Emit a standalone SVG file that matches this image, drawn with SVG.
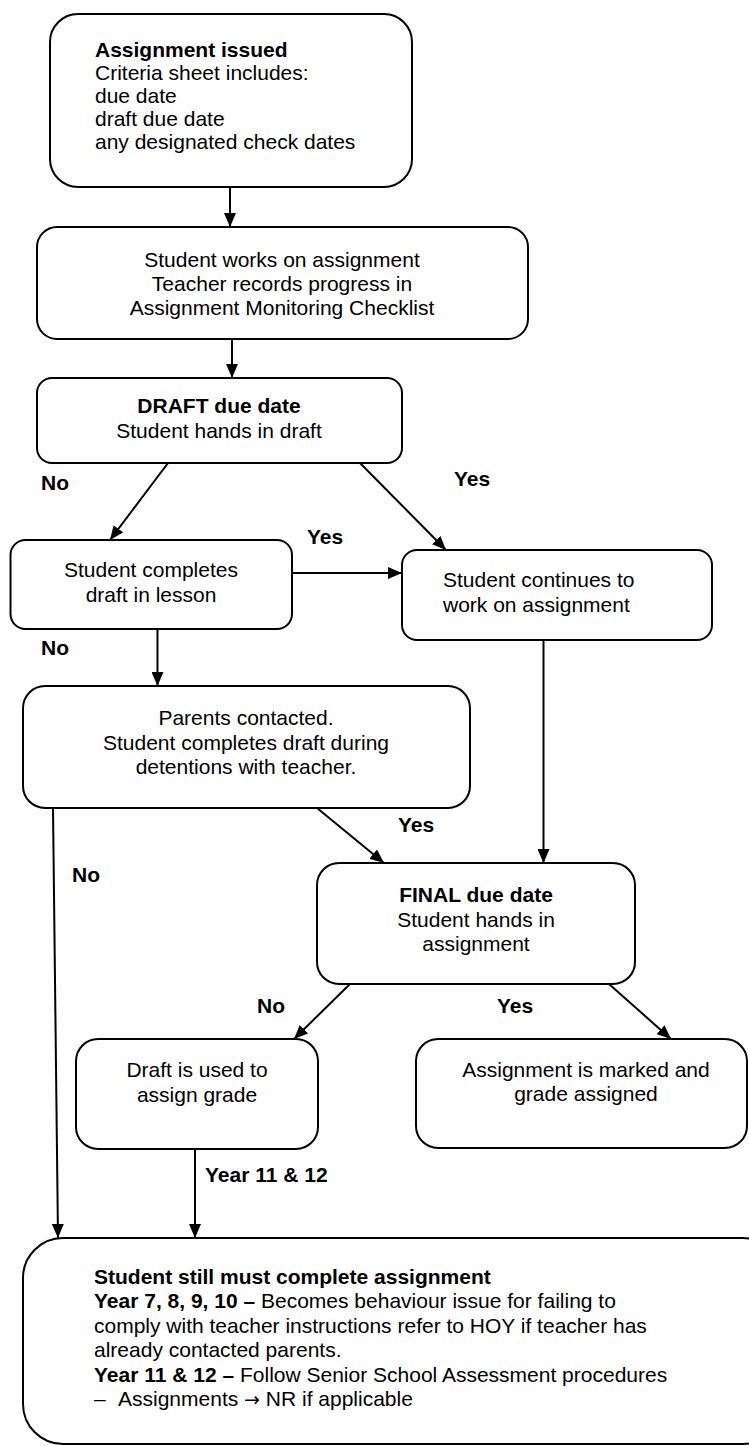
<svg xmlns="http://www.w3.org/2000/svg" width="749" height="1446" viewBox="0 0 749 1446">
<style>
.box{fill:#fff;stroke:#000;stroke-width:2}
.t{font-family:"Liberation Sans",Arial,sans-serif;font-size:21px;fill:#000}
.c{text-anchor:middle}
.b{font-weight:bold}
.arr{font-family:"DejaVu Sans",sans-serif;font-size:19px}
.con line{stroke:#000;stroke-width:2}
</style>
<defs>
<marker id="ah" viewBox="0 0 14 12" refX="14" refY="6" markerWidth="14" markerHeight="12" markerUnits="userSpaceOnUse" orient="auto">
<path d="M0,0 L14,6 L0,12 z" fill="#000"/>
</marker>
</defs>
<rect width="749" height="1446" fill="#fff"/>

<g id="n1">
<rect class="box" x="50" y="14" width="362" height="173" rx="28"/>
<text class="t b" x="95" y="57">Assignment issued</text>
<text class="t" x="95" y="80">Criteria sheet includes:</text>
<text class="t" x="95" y="103">due date</text>
<text class="t" x="95" y="126">draft due date</text>
<text class="t" x="95" y="149">any designated check dates</text>
</g>

<g id="n2">
<rect class="box" x="37" y="227" width="491" height="112" rx="20"/>
<text class="t c" x="282" y="267">Student works on assignment</text>
<text class="t c" x="282" y="291">Teacher records progress in</text>
<text class="t c" x="282" y="315">Assignment Monitoring Checklist</text>
</g>

<g id="n3">
<rect class="box" x="37" y="378" width="365" height="85" rx="15"/>
<text class="t c b" x="219" y="413">DRAFT due date</text>
<text class="t c" x="219" y="438">Student hands in draft</text>
</g>

<g id="n4">
<rect class="box" x="10.5" y="540" width="281.5" height="89" rx="15"/>
<text class="t c" x="151" y="577">Student completes</text>
<text class="t c" x="151" y="602">draft in lesson</text>
</g>

<g id="n5">
<rect class="box" x="402" y="550" width="310" height="90" rx="15"/>
<text class="t" x="443" y="587">Student continues to</text>
<text class="t" x="443" y="612">work on assignment</text>
</g>

<g id="n6">
<rect class="box" x="23" y="686" width="447" height="122" rx="22"/>
<text class="t c" x="246" y="725">Parents contacted.</text>
<text class="t c" x="246" y="750">Student completes draft during</text>
<text class="t c" x="246" y="774">detentions with teacher.</text>
</g>

<g id="n7">
<rect class="box" x="317" y="863" width="318" height="121" rx="22"/>
<text class="t c b" x="476" y="902">FINAL due date</text>
<text class="t c" x="476" y="927">Student hands in</text>
<text class="t c" x="476" y="951">assignment</text>
</g>

<g id="n8">
<rect class="box" x="76" y="1039" width="242" height="110" rx="22"/>
<text class="t c" x="197" y="1077">Draft is used to</text>
<text class="t c" x="197" y="1102">assign grade</text>
</g>

<g id="n9">
<rect class="box" x="416" y="1039" width="331" height="109" rx="22"/>
<text class="t c" x="586" y="1077">Assignment is marked and</text>
<text class="t c" x="586" y="1101">grade assigned</text>
</g>

<g id="n10">
<rect class="box" x="23" y="1238" width="760" height="206" rx="40"/>
<text class="t b" x="94" y="1284">Student still must complete assignment</text>
<text class="t" x="94" y="1308"><tspan class="b">Year 7, 8, 9, 10 –</tspan> Becomes behaviour issue for failing to</text>
<text class="t" x="94" y="1333">comply with teacher instructions refer to HOY if teacher has</text>
<text class="t" x="94" y="1357">already contacted parents.</text>
<text class="t" x="94" y="1382"><tspan class="b">Year 11 &amp; 12 –</tspan> Follow Senior School Assessment procedures</text>
<text class="t" x="94" y="1406">–<tspan x="118">Assignments </tspan><tspan class="arr">→</tspan> NR if applicable</text>
</g>

<g id="connectors" class="con">
<line x1="230" y1="187" x2="230" y2="227" marker-end="url(#ah)"/>
<line x1="232" y1="339" x2="232" y2="378" marker-end="url(#ah)"/>
<line x1="168" y1="463" x2="110" y2="540" marker-end="url(#ah)"/>
<line x1="360" y1="463" x2="446" y2="550" marker-end="url(#ah)"/>
<line x1="292" y1="573" x2="402" y2="573" marker-end="url(#ah)"/>
<line x1="157.5" y1="629" x2="157.5" y2="686" marker-end="url(#ah)"/>
<line x1="543.5" y1="640" x2="543.5" y2="863" marker-end="url(#ah)"/>
<line x1="317" y1="808" x2="384" y2="863" marker-end="url(#ah)"/>
<line x1="53" y1="808" x2="58" y2="1238" marker-end="url(#ah)"/>
<line x1="350" y1="984" x2="294" y2="1039" marker-end="url(#ah)"/>
<line x1="609" y1="984" x2="671" y2="1039" marker-end="url(#ah)"/>
<line x1="195" y1="1149" x2="195" y2="1238" marker-end="url(#ah)"/>
</g>

<g id="labels">
<text class="t b" x="41" y="490">No</text>
<text class="t b" x="454" y="486">Yes</text>
<text class="t b" x="307" y="544">Yes</text>
<text class="t b" x="41" y="655">No</text>
<text class="t b" x="398" y="832">Yes</text>
<text class="t b" x="72" y="882">No</text>
<text class="t b" x="257" y="1013">No</text>
<text class="t b" x="497" y="1013">Yes</text>
<text class="t b" x="205" y="1182">Year 11 &amp; 12</text>
</g>
</svg>
